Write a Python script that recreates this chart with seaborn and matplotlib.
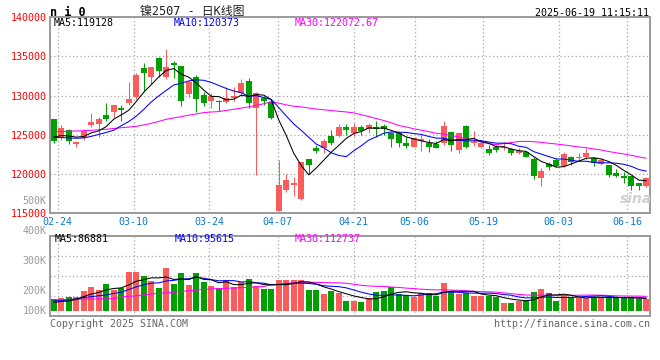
"""
ni0 日K线图 (镍2507) - candlesticks with MA5/10/30 plus a volume panel.
Values read off the Sina chart screenshot.
"""

import numpy as np
import pandas as pd
import matplotlib
matplotlib.use("Agg")
import matplotlib.pyplot as plt
import seaborn as sns

# ── Data ─────────────────────────────────────────────────────────────────────
DATES = ["02-24", "03-10", "03-24", "04-07", "04-21", "05-06", "05-19", "06-03", "06-16"]
DATE_IDX = [1, 11, 21, 30, 40, 48, 57, 67, 76]

OPEN = [127015, 124550, 125611, 123870, 124550, 126291, 126418, 127523, 127948, 128457,
        129009, 129858, 133511, 132406, 134785, 132406, 134190, 133765, 130155, 132321,
        130070, 129349, 129349, 129136, 129646, 130283, 131854, 128457, 129646, 129136,
        115291, 117967, 118604, 116820, 121875, 123360, 123360, 124847, 124847, 125951,
        125187, 126036, 125739, 126036, 126121, 125187, 125187, 123913, 123488, 124210,
        123913, 123785, 123913, 125399, 123063, 126164, 123913, 123488, 123191, 123488,
        123276, 123191, 122638, 122851, 121874, 119539, 121237, 121790, 121067, 122129,
        122087, 122214, 122002, 121280, 121152, 120176, 119793, 119793, 118816, 118477]
HIGH = [127015, 126206, 125739, 124252, 125739, 127820, 127311, 129094, 128797, 128797,
        131727, 132831, 134105, 133596, 134955, 135932, 134360, 133765, 131982, 132619,
        130495, 130283, 129400, 131047, 131047, 132109, 132236, 130495, 129943, 129434,
        121791, 120005, 119665, 121576, 121875, 123700, 124422, 125611, 126376, 126376,
        126546, 126249, 126546, 126801, 126376, 125314, 125399, 124677, 124550, 124975,
        124422, 124252, 126758, 125399, 125399, 126249, 125484, 124210, 123700, 123700,
        124125, 123361, 123276, 122979, 122214, 120813, 121577, 122002, 122766, 122299,
        122639, 123276, 122214, 122002, 121152, 120600, 120303, 119793, 118816, 119666]
LOW = [124000, 124337, 123870, 123488, 124337, 125951, 124677, 126758, 127100, 126758,
       128797, 129561, 130538, 131430, 132406, 132066, 132194, 128669, 129773, 127948,
       128712, 128457, 128075, 129009, 129349, 129986, 128372, 119878, 128797, 127015,
       115250, 117754, 117202, 116692, 119963, 122640, 122640, 123700, 124677, 124974,
       124847, 124975, 125272, 124762, 124975, 123488, 123488, 123276, 123403, 122978,
       122851, 123276, 123700, 122978, 122723, 123276, 123616, 123361, 122426, 122851,
       123063, 122426, 122511, 122129, 119369, 118477, 120515, 120940, 120940, 121152,
       121704, 121874, 121067, 121152, 119666, 119666, 118901, 117967, 117967, 118392]
CLOSE = [124254, 125824, 124252, 124082, 125484, 126630, 127015, 127015, 128797, 128202,
         129561, 132619, 132916, 133596, 133171, 133638, 133850, 129349, 131684, 129561,
         129009, 129900, 129136, 129646, 129986, 131558, 129094, 130283, 129349, 127100,
         118604, 119243, 118901, 121576, 121152, 122935, 124252, 123955, 125951, 125611,
         126036, 125527, 126249, 125739, 125739, 124507, 123998, 123616, 124550, 124465,
         123488, 123361, 126121, 123700, 125272, 123488, 124125, 123998, 122723, 123063,
         123488, 122638, 122979, 122214, 119793, 120388, 120940, 121025, 122554, 121492,
         122214, 122724, 121365, 121790, 119878, 119793, 119539, 118477, 118477, 119453]
# volume in thousands (K)
VOLUME = [172, 176, 180, 180, 200, 213, 203, 223, 203, 210,
          263, 263, 250, 233, 210, 277, 223, 260, 220, 260,
          230, 217, 210, 237, 213, 230, 240, 217, 207, 207,
          237, 237, 237, 237, 203, 203, 190, 200, 194, 167,
          167, 163, 177, 197, 200, 213, 190, 187, 180, 193,
          193, 183, 227, 200, 190, 193, 183, 183, 183, 180,
          160, 160, 167, 170, 197, 207, 193, 167, 183, 180,
          177, 177, 180, 180, 177, 177, 177, 177, 173, 173]

# moving averages before a full window exists
MA5_HEAD = [124700, 124900, 124850, 124700]
MA10_HEAD = [124680, 124650, 124600, 124560, 124600, 124800, 125050, 125300, 125580]
MA30_HEAD = [125400, 125420, 125450, 125480, 125520, 125560, 125650, 125700, 125800, 125900,
             125980, 126080, 126250, 126450, 126700, 126970, 127150, 127310, 127500, 127650,
             127820, 127900, 127950, 128100, 128250, 128400, 128550, 128750, 128950]
VMA5_HEAD = [162, 165, 167, 172]
VMA10_HEAD = [167, 168, 170, 174, 178, 181, 184, 187, 192]
VMA30_HEAD = [170, 171, 172, 172, 173, 173, 174, 174, 175, 180,
              182, 184, 187, 190, 192, 194, 196, 198, 201, 203,
              205, 207, 208, 209, 210, 211, 212, 214, 215]

PRICE_TICKS = [115000, 120000, 125000, 130000, 135000, 140000]
VOL_LABELS = ["500K", "400K", "300K", "200K", "100K"]
VOL_LABEL_POS = [500, 400, 300, 200, 134]
VOL_BASE = 134

# ── Style ────────────────────────────────────────────────────────────────────
sns.set_theme(style="white")
plt.rcParams["font.family"] = ["DejaVu Sans Mono", "Noto Sans CJK SC"]

RED = "#fa5c5c"
GREEN = "#00a000"
BLUE = "#0000ff"
MAGENTA = "#ff00ff"
DATE_BLUE = "#0a7bd0"
BORDER = "#9a9a9a"
FS = 7.2
LW = 0.75
W, H = 660, 360


def moving_avg(vals, n, head):
    s = pd.Series(vals, dtype=float).rolling(n).mean()
    s.iloc[:n - 1] = head
    return s


df = pd.DataFrame({"open": OPEN, "high": HIGH, "low": LOW, "close": CLOSE, "vol": VOLUME})
df["x"] = np.arange(len(df))
df["up"] = df["close"] >= df["open"]
df["ma5"] = moving_avg(CLOSE, 5, MA5_HEAD)
df["ma10"] = moving_avg(CLOSE, 10, MA10_HEAD)
df["ma30"] = moving_avg(CLOSE, 30, MA30_HEAD)
df["vma5"] = moving_avg(VOLUME, 5, VMA5_HEAD)
df["vma10"] = moving_avg(VOLUME, 10, VMA10_HEAD)
df["vma30"] = moving_avg(VOLUME, 30, VMA30_HEAD)
colors = np.where(df["up"], RED, GREEN)
n = len(df)

fig = plt.figure(figsize=(W / 100, H / 100), dpi=100)
ax = fig.add_axes([50 / W, 1 - 213.3 / H, 600 / W, (213.3 - 17) / H])
axv = fig.add_axes([50 / W, 1 - 316 / H, 600 / W, (316 - 235.5) / H], sharex=ax)

# ── Candles ──────────────────────────────────────────────────────────────────
ax.vlines(df["x"], df["low"], df["high"], colors=colors, lw=LW, zorder=2)
body = np.maximum((df["close"] - df["open"]).abs(), 140)
ax.bar(df["x"], body, bottom=np.minimum(df["open"], df["close"]), width=0.8,
       color=colors, linewidth=0, zorder=2)

for col, c in [("ma30", MAGENTA), ("ma10", BLUE), ("ma5", "black")]:
    sns.lineplot(data=df, x="x", y=col, ax=ax, color=c, lw=LW, legend=False,
                 errorbar=None, zorder=3)

# ── Volume ───────────────────────────────────────────────────────────────────
axv.bar(df["x"], df["vol"] - VOL_BASE, bottom=VOL_BASE, width=0.8, color=colors,
        linewidth=0, zorder=2)
for col, c in [("vma30", MAGENTA), ("vma10", BLUE), ("vma5", "black")]:
    sns.lineplot(data=df, x="x", y=col, ax=axv, color=c, lw=LW, legend=False,
                 errorbar=None, zorder=3)

# ── Axes / grids ─────────────────────────────────────────────────────────────
grid_pos = [-0.5 + k * n / (n - 1) for k in DATE_IDX]
grid_kw = dict(color="#a8a8a8", linestyle=(0, (1, 2)), linewidth=0.9)

ax.set_xlim(-0.5, n - 0.5)
ax.set_ylim(115000, 140000)
ax.set_xticks(grid_pos)
ax.set_xticklabels(DATES)
ax.set_yticks(PRICE_TICKS)
ax.set_yticklabels([str(t) for t in PRICE_TICKS])
ax.tick_params(axis="x", length=0, pad=2.6, labelsize=FS, labelcolor=DATE_BLUE)
ax.tick_params(axis="y", length=0, pad=2.6, labelsize=FS, labelcolor="#ff0000")
ax.grid(True, **grid_kw)
ax.set_xlabel("")
ax.set_ylabel("")

vlo, vhi = 116.7, 385
axv.set_ylim(vlo, vhi)
axv.set_yticks([])
axv.set_yticks(np.linspace(vlo, vhi, 5)[1:-1], minor=True)
axv.tick_params(axis="x", length=0, labelbottom=False)
axv.tick_params(axis="y", which="both", length=0, labelleft=False)
axv.grid(True, axis="x", **grid_kw)
axv.grid(True, axis="y", which="minor", **grid_kw)
axv.set_xlabel("")
axv.set_ylabel("")
for lab, pos in zip(VOL_LABELS, VOL_LABEL_POS):
    axv.text(-0.006, pos, lab, transform=axv.get_yaxis_transform(), ha="right",
             va="center", fontsize=FS, color="#9a9a9a", clip_on=False)

for a in (ax, axv):
    a.set_axisbelow(True)
    for sp in a.spines.values():
        sp.set_color(BORDER)
        sp.set_linewidth(1.4)
        sp.set_visible(True)


# ── Texts ────────────────────────────────────────────────────────────────────
def ftxt(x, y, s, **kw):
    kw.setdefault("fontsize", FS)
    kw.setdefault("va", "center")
    fig.text(x / W, 1 - y / H, s, **kw)


ftxt(50, 12, "n i 0", fontsize=8.5, fontweight="bold", color="black")
ftxt(140, 12, "镍2507 - 日K线图", fontsize=8.6, color="#222222")
ftxt(649, 12.5, "2025-06-19 11:15:11", ha="right", color="black")

ftxt(54, 23.5, "MA5:119128", color="black")
ftxt(174, 23.5, "MA10:120373", color=BLUE)
ftxt(295, 23.5, "MA30:122072.67", color=MAGENTA)

ftxt(55, 239.5, "MA5:86881", color="black")
ftxt(175, 239.5, "MA10:95615", color=BLUE)
ftxt(295, 239.5, "MA30:112737", color=MAGENTA)

ftxt(50, 324, "Copyright 2025 SINA.COM", color="#666666")
ftxt(650, 324, "http://finance.sina.com.cn", ha="right", color="#666666")
ftxt(636, 199, "sina", ha="center", fontsize=10, fontweight="bold", style="italic",
     color="#cfcfcf", family="DejaVu Sans")

fig.savefig("out.png", dpi=100)
